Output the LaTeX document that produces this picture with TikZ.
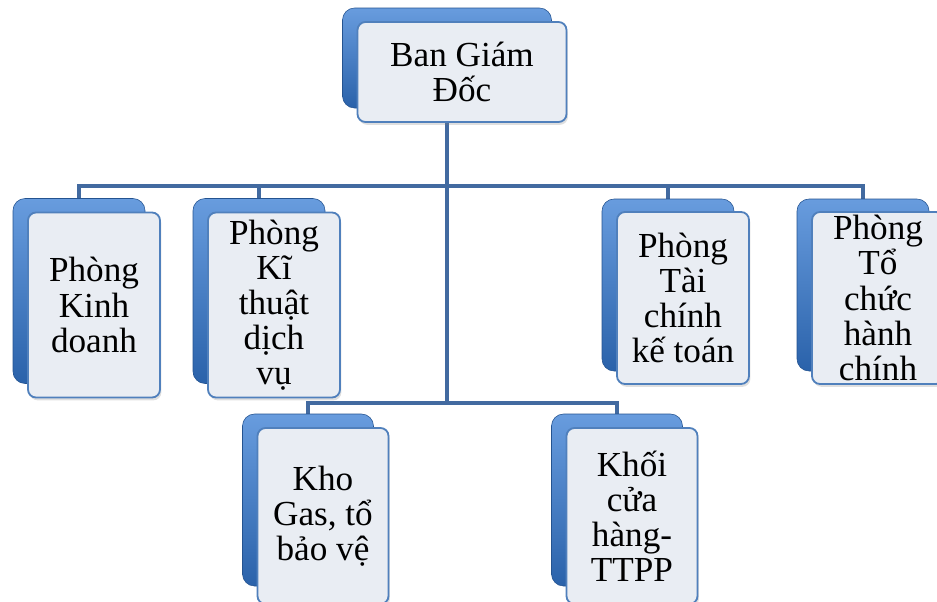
\documentclass[tikz,border=0pt]{standalone}
\usepackage{fontspec}
\setmainfont{Liberation Serif}
\usetikzlibrary{positioning,shadows,backgrounds}

\definecolor{linkblue}{RGB}{66,106,160}
\definecolor{backtop}{RGB}{104,156,222}
\definecolor{backbot}{RGB}{42,98,170}
\definecolor{frontfill}{RGB}{233,237,243}
\definecolor{frontline}{RGB}{80,128,188}

\tikzset{
  boxsize/.style 2 args={minimum width=#1*0.025cm, minimum height=#2*0.025cm},
  backbox/.style={rounded corners=0.3cm, top color=backtop, bottom color=backbot,
    draw=backbot!85!black, line width=0.4pt, inner sep=0pt},
  frontbox/.style={rounded corners=0.2cm, fill=frontfill, draw=frontline,
    line width=1.3pt, inner sep=0pt, align=center,
    font=\fontsize{25}{25}\selectfont,
    drop shadow={opacity=0.25, shadow xshift=1pt, shadow yshift=-2pt}},
  link/.style={draw=linkblue, line width=2.8pt}
}

\begin{document}
\begin{tikzpicture}[x=0.025cm, y=-0.025cm]

	\useasboundingbox (0,0) rectangle (937,601);

	% top
	\node[backbox, boxsize={209}{100}] (bgd-b) at (447,58) {};
	\node[frontbox, boxsize={209}{100}] (bgd) at (462,72) {Ban Giám\\Đốc};

	% first row
	\node[backbox, boxsize={132}{185}] (pkd-b) at (79,291) {};
	\node[frontbox, boxsize={132}{185}] (pkd) at (94,305) {Phòng\\Kinh\\doanh};

	\node[backbox, boxsize={132}{185}] (pkt-b) at (259,291) {};
	\node[frontbox, boxsize={132}{185}] (pkt) at (274,305) {Phòng\\Kĩ\\thuật\\dịch\\vụ};

	\node[backbox, boxsize={132}{172}] (ptk-b) at (668,285) {};
	\node[frontbox, boxsize={132}{172}] (ptk) at (683,298) {Phòng\\Tài\\chính\\kế toán};

	\node[backbox, boxsize={132}{172}] (ptc-b) at (863,285) {};
	\node[frontbox, boxsize={132}{172}] (ptc) at (878,298) {Phòng\\Tổ\\chức\\hành\\chính};

	% second row
	\node[backbox, boxsize={131}{172}] (kho-b) at (308,500) {};
	\node[frontbox, boxsize={131}{176}] (kho) at (323,516) {Kho\\Gas, tổ\\bảo vệ};

	\node[backbox, boxsize={131}{172}] (kch-b) at (617,500) {};
	\node[frontbox, boxsize={131}{176}] (kch) at (632,516) {Khối\\cửa\\hàng-\\TTPP};

	% connectors
	\begin{scope}[on background layer]
		\coordinate (bus1) at (447,186);
		\coordinate (bus2) at (447,403);
		\draw[link] (bgd-b.south) -- (bus2);
		\draw[link] (pkd-b.north) |- (bus1) -| (ptc-b.north);
		\draw[link] (pkt-b.north) -- (pkt-b.north |- bus1);
		\draw[link] (ptk-b.north) -- (ptk-b.north |- bus1);
		\draw[link] (kho-b.north) |- (bus2) -| (kch-b.north);
	\end{scope}

\end{tikzpicture}
\end{document}
